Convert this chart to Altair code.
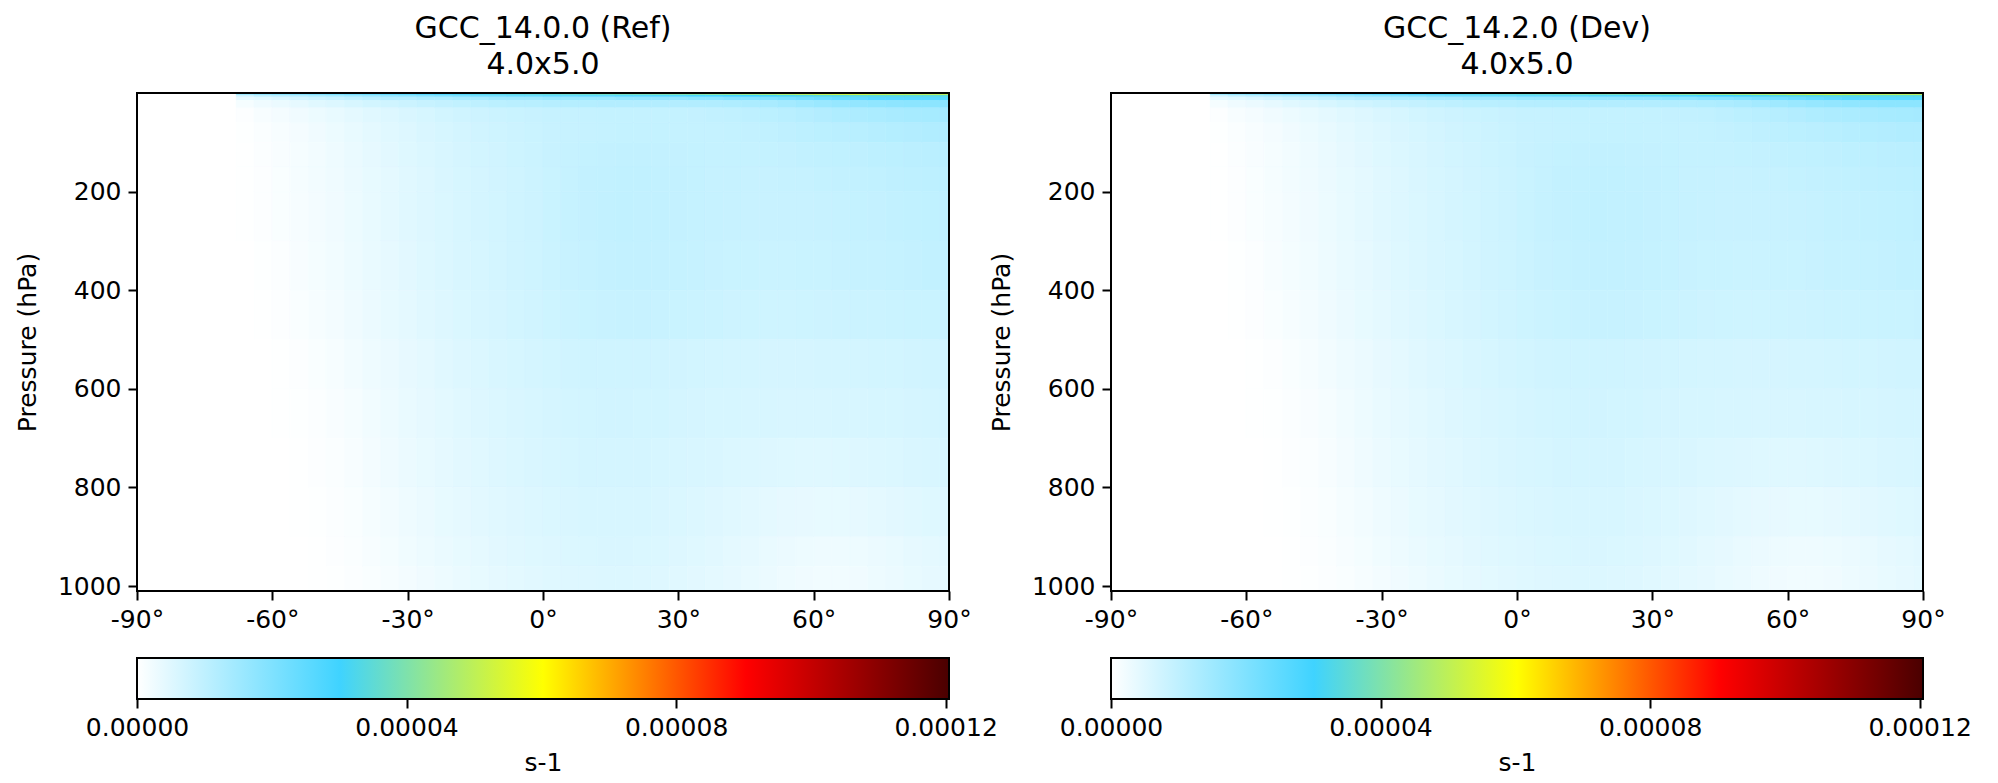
import altair as alt
import pandas as pd

# ---------------- data ----------------
# latitude cell edges (4x5 grid with polar half-cells)
lat_edges = [-90, -88] + list(range(-84, 85, 4)) + [88, 90]
# pressure band edges (hPa), top to bottom
p_edges = [0.01, 1.5, 4, 8, 15, 30, 60, 100, 150, 200, 300, 400, 500, 600, 700, 800, 900, 960, 1010]

# values in 1e-6 s-1, one row per pressure band (top -> bottom), 46 latitude cells (S -> N)
ref_values = [
    [0,0,0,0,0,0, 34,36,37,38, 39,40,41,42,43,44,45,46,47,48, 49,50,51,52,53,54,55,56,57,58, 60,62,64,67,70,75,82,92,108,112, 95,85,82,80,80,80],
    [0,0,0,0,0,0, 18,20,21,22, 23,24,25,26,27,28,29,30,31,32, 33,34,35,36,37,38,39,40,41,42, 43,44,46,48,50,52,54,56,58,60, 60,58,57,56,56,56],
    [0,0,0,0,0,0, 8,10,11,12, 13,14,15,16,17,18,19,20,21,22, 22,23,23,24,24,25,25,26,26,27, 27,28,28,29,30,31,32,33,34,34, 35,35,35,35,35,35],
    [0,0,0,0,0,0, 4,5,6,7, 8,9,10,11,12,12,13,13,14,14, 15,15,15,16,16,16,16,17,17,17, 17,18,18,19,19,20,21,22,23,24, 25,26,26,26,26,26],
    [0,0,0,0,0,0, 1.5,2.5,3.2,4, 4.8,5.5,6.2,7,7.6,8.2,8.8,9.3,9.8,10.2, 10.6,11,11.2,11.4,11.6,11.8,12,12,12,12, 12,12.1,12.3,12.6,13,13.5,14.2,15,15.8,16.5, 17,17.4,17.8,18,18,18],
    [0,0,0,0,0,0, 0.5,1.2,1.8,2.4, 3,3.6,4.2,4.8,5.4,6,6.5,7,7.5,7.9, 8.2,8.5,8.7,8.9,9,9.1,9.2,9.2,9.2,9.2, 9.2,9.3,9.5,9.8,10.2,10.6,11,11.5,12,12.5, 12.9,13.2,13.5,13.8,14,14.1],
    [0,0,0,0,0,0, 0.3,0.8,1.3,1.8, 2.4,3,3.6,4.2,4.8,5.4,5.9,6.4,6.9,7.3, 7.7,8,8.3,8.6,8.8,9,9.1,9.2,9.2,9.2, 9.1,9.1,9.1,9.2,9.4,9.7,10,10.3,10.6,10.9, 11.2,11.5,11.8,12,12.2,12.3],
    [0,0,0,0,0,0, 0.2,0.6,1.1,1.6, 2.1,2.7,3.3,3.9,4.5,5.1,5.6,6.1,6.6,7, 7.4,7.8,8.2,8.6,9,9.2,9.4,9.5,9.5,9.4, 9.3,9.2,9.1,9.1,9.1,9.2,9.3,9.5,9.7,9.9, 10.1,10.3,10.5,10.7,10.9,11],
    [0,0,0,0,0,0, 0.2,0.5,1,1.5, 2,2.5,3.1,3.7,4.3,4.9,5.4,5.9,6.4,6.8, 7.2,7.6,8,8.5,9,9.4,9.6,9.7,9.7,9.6, 9.4,9.2,9.0,8.9,8.8,8.8,8.9,9,9.2,9.4, 9.6,9.8,10,10.2,10.4,10.5],
    [0,0,0,0,0,0, 0.1,0.4,0.9,1.4, 1.9,2.4,3,3.6,4.2,4.8,5.3,5.8,6.3,6.7, 7.1,7.5,7.9,8.4,8.9,9.3,9.6,9.7,9.6,9.5, 9.3,9.1,8.9,8.8,8.7,8.6,8.6,8.7,8.8,9, 9.2,9.3,9.5,9.7,9.9,10],
    [0,0,0,0,0,0, 0,0.3,0.7,1.2, 1.7,2.2,2.8,3.4,4,4.6,5.1,5.6,6.1,6.5, 6.9,7.3,7.7,8.1,8.6,9,9.3,9.4,9.4,9.3, 9.1,8.9,8.7,8.5,8.4,8.3,8.3,8.4,8.5,8.7, 8.9,9,9.1,9.3,9.5,9.6],
    [0,0,0,0,0,0, 0,0.2,0.5,0.9, 1.4,1.9,2.5,3.1,3.7,4.3,4.8,5.3,5.8,6.2, 6.6,7,7.4,7.8,8.2,8.5,8.7,8.8,8.8,8.7, 8.5,8.3,8.1,7.9,7.8,7.7,7.7,7.8,7.9,8, 8.1,8.2,8.3,8.4,8.5,8.6],
    [0,0,0,0,0,0, 0,0,0.2,0.5, 0.9,1.4,2,2.6,3.2,3.8,4.3,4.8,5.3,5.7, 6.1,6.4,6.7,7,7.3,7.5,7.6,7.6,7.5,7.4, 7.2,7,6.9,6.8,6.7,6.6,6.6,6.6,6.7,6.8, 6.9,7,7.1,7.2,7.3,7.4],
    [0,0,0,0,0,0, 0,0,0.1,0.3, 0.6,1.1,1.6,2.2,2.8,3.4,3.9,4.4,4.9,5.3, 5.7,6,6.3,6.6,6.9,7.1,7.2,7.2,7.1,7, 6.8,6.6,6.5,6.4,6.3,6.2,6.1,6.1,6.1,6.2, 6.3,6.4,6.5,6.6,6.7,6.8],
    [0,0,0,0,0,0, 0,0,0,0.2, 0.4,0.8,1.3,1.9,2.5,3.1,3.6,4.1,4.5,4.9, 5.3,5.6,5.9,6.2,6.5,6.7,6.8,6.8,6.7,6.5, 6.3,6.1,5.9,5.7,5.5,5.3,5.1,5,5,5.1, 5.3,5.5,5.7,5.9,6.1,6.2],
    [0,0,0,0,0,0, 0,0,0,0.1, 0.3,0.6,1,1.5,2.1,2.7,3.2,3.7,4.1,4.5, 4.9,5.2,5.5,5.8,6,6.2,6.3,6.3,6.2,6, 5.8,5.5,5.2,4.9,4.6,4.3,4,3.8,3.7,3.7, 3.9,4.2,4.5,4.8,5.1,5.3],
    [0,0,0,0,0,0, 0,0,0,0, 0.2,0.4,0.8,1.2,1.7,2.3,2.8,3.3,3.7,4.1, 4.5,4.8,5.1,5.4,5.6,5.8,5.9,5.9,5.8,5.6, 5.3,5,4.7,4.3,3.9,3.5,3.1,2.8,2.6,2.6, 2.8,3.1,3.5,3.9,4.3,4.6],
    [0,0,0,0,0,0, 0,0,0,0, 0.1,0.3,0.6,1,1.4,1.9,2.4,2.9,3.3,3.7, 4.1,4.4,4.7,5,5.2,5.4,5.5,5.5,5.4,5.2, 4.9,4.6,4.3,3.9,3.5,3.1,2.7,2.4,2.2,2.2, 2.4,2.8,3.2,3.6,4,4.3],
]
# Dev panel is visually indistinguishable from Ref
dev_values = [row[:] for row in ref_values]

titles = [["GCC_14.0.0 (Ref)", "4.0x5.0"], ["GCC_14.2.0 (Dev)", "4.0x5.0"]]
x_ticks = [-90, -60, -30, 0, 30, 60, 90]
y_ticks = [200, 400, 600, 800, 1000]
cb_ticks = [0.0, 0.00004, 0.00008, 0.00012]
VMAX = 0.0001205
cmap_colors = ["#ffffff", "#3fd3ff", "#ffff00", "#ff0000", "#4a0000"]
cmap_offsets = [0.0, 0.25, 0.5, 0.75, 1.0]

assert all(len(r) == len(lat_edges) - 1 for r in ref_values)
assert len(ref_values) == len(p_edges) - 1

FONT = "DejaVu Sans"
PW, PH, CBH = 812, 498, 41


def to_df(values):
    rows = []
    for i, row in enumerate(values):
        for j, v in enumerate(row):
            rows.append({"lat0": lat_edges[j], "lat1": lat_edges[j + 1],
                         "p0": p_edges[i], "p1": p_edges[i + 1], "val": v * 1e-6})
    return pd.DataFrame(rows)


cscale = alt.Scale(domain=[o * VMAX for o in cmap_offsets], range=cmap_colors,
                   interpolate="rgb", clamp=True)
xscale = alt.Scale(domain=[-90, 90], nice=False, zero=False)
yscale = alt.Scale(domain=[0, 1010], nice=False, zero=False, reverse=True)


def panel(values, title):
    df = to_df(values)
    heat = alt.Chart(df).mark_rect(strokeWidth=0.6).encode(
        x=alt.X("lat0:Q", scale=xscale,
                axis=alt.Axis(values=x_ticks, labelExpr="datum.value + '°'", title=None,
                              labelFlush=False, zindex=1)),
        x2="lat1:Q",
        y=alt.Y("p0:Q", scale=yscale,
                axis=alt.Axis(values=y_ticks, format="d", title="Pressure (hPa)",
                              titlePadding=17, zindex=1)),
        y2="p1:Q",
        color=alt.Color("val:Q", scale=cscale, legend=None),
        stroke=alt.Stroke("val:Q", scale=cscale, legend=None),
    )
    frame = alt.Chart(pd.DataFrame({"a": [0]})).mark_rect(
        fillOpacity=0, stroke="black", strokeWidth=2
    ).encode(x=alt.datum(-90), x2=alt.datum(90), y=alt.datum(0), y2=alt.datum(1010))
    return alt.layer(heat, frame).properties(
        width=PW, height=PH,
        title=alt.TitleParams(title, fontSize=30, font=FONT, fontWeight="normal",
                              color="black", lineHeight=36, offset=12, anchor="middle"),
    )


def colorbar():
    df = pd.DataFrame({"lo": [0.0], "hi": [VMAX]})
    grad = alt.LinearGradient(
        gradient="linear",
        stops=[alt.GradientStop(color=c, offset=o) for c, o in zip(cmap_colors, cmap_offsets)],
        x1=0, x2=1, y1=0, y2=0,
    )
    cbx = alt.Scale(domain=[0, VMAX], nice=False, zero=False)
    bar = alt.Chart(df).mark_rect(color=grad).encode(
        x=alt.X("lo:Q", scale=cbx,
                axis=alt.Axis(values=cb_ticks, format=".5f", title="s-1",
                              labelFlush=False, zindex=1)),
        x2="hi:Q",
        y=alt.value(0), y2=alt.value(CBH),
    )
    frame = alt.Chart(df).mark_rect(fillOpacity=0, stroke="black", strokeWidth=2).encode(
        x=alt.X("lo:Q", scale=cbx), x2="hi:Q", y=alt.value(0), y2=alt.value(CBH)
    )
    return alt.layer(bar, frame).properties(width=PW, height=CBH)


chart = alt.concat(
    panel(ref_values, titles[0]), panel(dev_values, titles[1]),
    colorbar(), colorbar(),
    columns=2, spacing={"row": 67, "column": 162}, bounds="flush",
).properties(
    padding={"left": 7, "top": 6, "right": 10, "bottom": 5}
).resolve_scale(color="shared").configure_view(stroke=None).configure_axis(
    labelFont=FONT, titleFont=FONT, labelFontSize=25, titleFontSize=25,
    titleFontWeight="normal", labelColor="black", titleColor="black",
    tickColor="black", tickWidth=2, tickSize=9, labelPadding=7, titlePadding=10,
    domain=False, grid=False,
).configure_title(font=FONT, color="black")

chart.save("out.html", embed_options={"renderer": "svg", "actions": False})
